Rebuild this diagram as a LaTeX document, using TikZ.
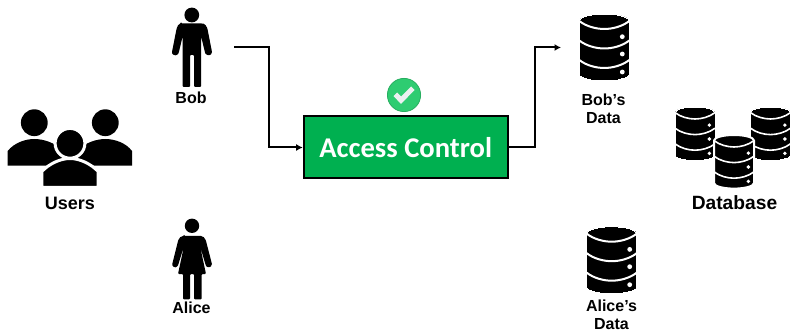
\documentclass[tikz,border=0pt]{standalone}
\usepackage{fontspec}
\setmainfont{Liberation Sans}
\newfontfamily\boxfont{Carlito}
\usetikzlibrary{arrows.meta}
\definecolor{boxgreen}{HTML}{00B050}
\definecolor{checkgreen}{HTML}{2ECC71}
\definecolor{checkedge}{HTML}{27AE60}
\definecolor{checkwhite}{HTML}{ECF0F1}
\tikzset{
  label text/.style={font=\bfseries\fontsize{16}{18}\selectfont, align=center, inner sep=0pt, text=black},
  big label/.style={font=\bfseries\fontsize{18}{20}\selectfont, inner sep=0pt, text=black},
  conn/.style={draw=black, line width=2pt, line join=miter, -{Latex[length=6.5pt,width=7pt]}},
  accessbox/.style={draw=black, line width=2pt, fill=boxgreen, text=white, minimum width=204pt, minimum height=62pt, inner sep=0pt,
    font=\boxfont\bfseries\fontsize{28.6}{30}\selectfont}
}
\newcommand{\dbicon}[4]{% x, y top, scale, halo
  \begin{scope}[shift={(#1,#2)}, scale=#3]
    \path[fill=black, draw=white, line width=#4]
      (-25,7) .. controls (-25,3.1) and (-13.8,0) .. (0,0)
      .. controls (13.8,0) and (25,3.1) .. (25,7) -- (25,60)
      .. controls (25,63.9) and (13.8,67) .. (0,67)
      .. controls (-13.8,67) and (-25,63.9) .. (-25,60) -- cycle;
    \foreach \ya/\yb in {7/15, 26.5/34.5, 46/54}{
      \draw[white, line width=#3*2pt]
        (-25,\ya) .. controls (-18,\yb-2.5) and (-8,\yb) .. (0,\yb)
        .. controls (8,\yb) and (18,\yb-2.5) .. (25,\ya);
    }
    \foreach \yd in {22.7,40,58}{
      \fill[white] (18,\yd) circle (2.4);
    }
  \end{scope}
}
\begin{document}
\begin{tikzpicture}[x=1pt,y=-1pt]
\useasboundingbox (0,0) rectangle (790,331);
\fill[white] (0,0) rectangle (790,331);

% Users
\fill[black] (34.3,122.7) circle (13.4pt);
\fill[black] (105.3,122.7) circle (13.4pt);
\fill[black] (7.7,165.7) -- (7.7,151) .. controls (14,143) and (25,139) .. (34.3,139)
  .. controls (44,139) and (55,143) .. (62,150) -- (62,165.7) -- cycle;
\fill[black] (132,165.7) -- (132,151) .. controls (126,143) and (115,139) .. (105.3,139)
  .. controls (96,139) and (85,143) .. (78,150) -- (78,165.7) -- cycle;
\path[fill=black, draw=white, line width=3pt] (70,143.3) circle (14.9pt);
\path[fill=black, draw=white, line width=3pt] (41.8,187.5) -- (41.8,171.5) .. controls (49,164) and (60,158.5) .. (70,158.5)
  .. controls (80,158.5) and (91,164) .. (98.2,171.5) -- (98.2,187.5) -- cycle;
\node[big label] (users) at (70,203) {Users};

% Bob figure
\fill[black] (191.8,15) circle (7.4pt);
\fill[black, rounded corners=1pt]
  (181,23.5) -- (202.5,23.5) .. controls (205,24) and (206.5,26) .. (207.5,29)
  -- (211.8,51) .. controls (212.3,54) and (210,55.5) .. (208,55)
  .. controls (206.5,54.8) and (205.5,54) .. (205,52.5)
  -- (201,36) -- (201,87) -- (194,87) -- (194,55) -- (190,55) -- (190,87) -- (182.7,87) -- (182.7,36)
  -- (178.8,52.5) .. controls (178,54.5) and (176,55.5) .. (174.5,55)
  .. controls (172.5,54.5) and (171.8,53) .. (172.2,51)
  -- (176.5,29) .. controls (177.5,26) and (178.5,24) .. (181,23.5) -- cycle;
\node[label text] (bob) at (191,98) {Bob};

% Alice figure
\fill[black] (192,225.8) circle (7.2pt);
\fill[black, rounded corners=1pt]
  (184,236) -- (200,236) .. controls (203,236) and (205,238) .. (206,241)
  -- (211.7,263) .. controls (212.2,266) and (210,267.5) .. (208,267)
  .. controls (206.5,266.8) and (206,266) .. (205.5,264.5)
  -- (200,246) -- (206,274) -- (201.7,274) -- (201.7,299.3) -- (194,299.3) -- (194,274) -- (190,274) -- (190,299.3)
  -- (183,299.3) -- (183,274) -- (178,274) -- (184,246)
  -- (178.3,264.5) .. controls (177.8,266) and (176,267.5) .. (174.5,267)
  .. controls (172.8,266.5) and (172,265) .. (172.5,263)
  -- (178,241) .. controls (179,238) and (181,236) .. (184,236) -- cycle;
\node[label text] (alice) at (191.5,307.5) {Alice};

% Access control
\node[accessbox] (ac) at (405.7,147.5) {Access Control};
\coordinate (bobout) at (234,47.5);
\coordinate (bobin) at (561,47.5);
\draw[conn] (bobout) -- (268.5,47.5) |- (ac.west);
\draw[conn] (ac.east) -- (534.5,147.5) |- (bobin);

% Check badge
\path[fill=checkgreen, draw=checkedge, line width=0.8pt] (404,95) circle (16.6pt);
\fill[checkwhite] (393.5,96) -- (397,92.5) -- (401,96.5) -- (411,86.5) -- (414.5,90) -- (401,104) -- cycle;

% Databases
\dbicon{604.3}{14}{1}{0pt}
\node[label text] (bobdata) at (603.5,109) {Bob’s\\Data};
\dbicon{695}{107}{0.8}{0pt}
\dbicon{770.5}{107}{0.8}{0pt}
\dbicon{734}{135}{0.8}{2pt}
\node[big label, font=\bfseries\fontsize{19.2}{22}\selectfont] (database) at (734.5,203) {Database};
\dbicon{611.7}{226.7}{1}{0pt}
\node[label text] (alicedata) at (611.5,314.5) {Alice’s\\Data};
\end{tikzpicture}
\end{document}
